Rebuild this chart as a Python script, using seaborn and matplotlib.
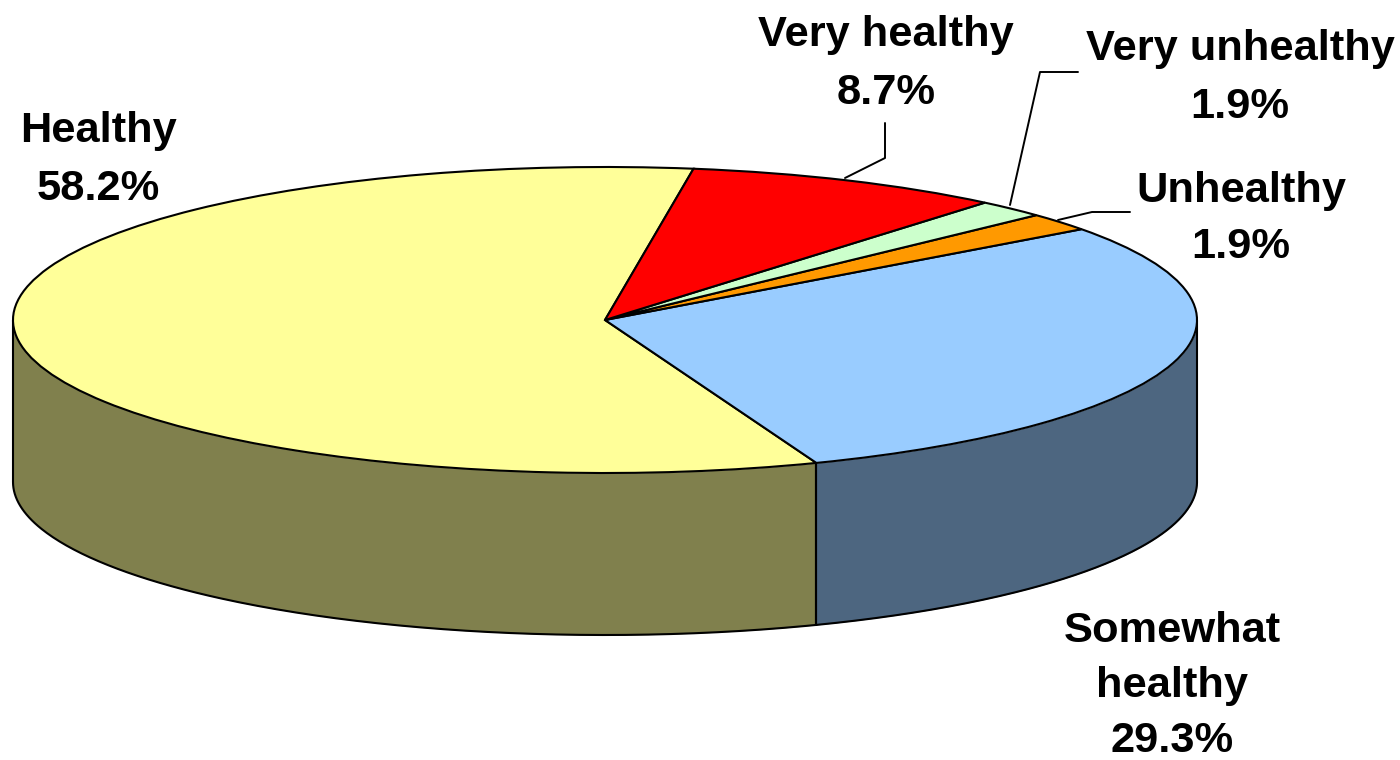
import numpy as np
import seaborn as sns
import matplotlib.pyplot as plt
from matplotlib.lines import Line2D

# Slice values, counterclockwise from the top
labels = ['Healthy', 'Somewhat healthy', 'Unhealthy', 'Very unhealthy', 'Very healthy']
values = [58.2, 29.3, 1.9, 1.9, 8.7]
top_colors = ['#FFFF99', '#99CCFF', '#FF9900', '#CCFFCC', '#FF0000']
side_colors = ['#80804D', '#4D6680', '#804D00', '#668066', '#800000']

START = 81.4  # degrees
W, H = 1400, 760
CX, CY, RX, RY, DEPTH = 605, 320, 592, 153, 162

sns.set_theme(style='white')
plt.rcParams['font.family'] = ['Liberation Sans', 'DejaVu Sans']

fig = plt.figure(figsize=(14, 7.6), dpi=100)
ax = fig.add_axes([0, 0, 1, 1])

# Top of the pie, squashed into an ellipse afterwards
ax.pie(values, colors=top_colors, startangle=START, counterclock=True,
       wedgeprops={'edgecolor': 'black', 'linewidth': 1.5, 'zorder': 3})
ax.set_aspect('auto')
ax.set_xlim(-CX / RX, (W - CX) / RX)
ax.set_ylim((CY - H) / RY, CY / RY)

# Side wall: only the front half of each slice shows
d = DEPTH / RY
edges = START + np.cumsum([0] + values) * 3.6
for i in range(len(values)):
    a0, a1 = max(edges[i], 180), min(edges[i + 1], 360)
    if a1 <= a0:
        continue
    t = np.radians(np.linspace(a0, a1, 200))
    x = np.cos(t)
    y = np.sin(t)
    ax.fill_between(x, y, y - d, color=side_colors[i], zorder=1, linewidth=0)
    ax.plot(x, y - d, color='black', lw=1.5, zorder=2)
    ax.plot([x[0], x[0]], [y[0], y[0] - d], color='black', lw=1.5, zorder=2)
    ax.plot([x[-1], x[-1]], [y[-1], y[-1] - d], color='black', lw=1.5, zorder=2)


def put_text(x, y, s, spacing=1.55):
    fig.text(x / W, 1 - y / H, s, ha='center', va='center', fontsize=31.2,
             fontweight='bold', color='black', linespacing=spacing)


def leader(xs, ys):
    fig.add_artist(Line2D([v / W for v in xs], [1 - v / H for v in ys],
                          color='black', lw=1.4))


put_text(98, 160, 'Healthy\n58.2%')
put_text(886, 64, 'Very healthy\n8.7%')
put_text(1240, 78, 'Very unhealthy\n1.9%')
put_text(1241, 219, 'Unhealthy\n1.9%', spacing=1.5)
put_text(1172, 686, 'Somewhat\nhealthy\n29.3%', spacing=1.5)

leader([845, 885, 885], [178, 158, 123])
leader([1010, 1040, 1078], [205, 72, 72])
leader([1058, 1092, 1130], [220, 212, 212])

fig.savefig('out.png', dpi=100, facecolor='white')
